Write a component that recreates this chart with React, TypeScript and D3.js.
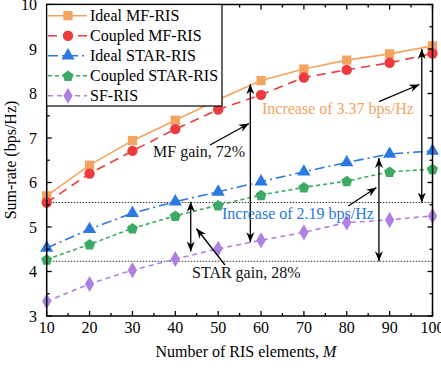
import React, { useEffect, useRef } from "react";
import * as d3 from "d3";

const W = 441;
const H = 371;

const elements = [10, 20, 30, 40, 50, 60, 70, 80, 90, 100];
const idealMF = [5.7, 6.39, 6.94, 7.4, 7.86, 8.29, 8.55, 8.75, 8.89, 9.07];
const coupledMF = [5.55, 6.2, 6.71, 7.2, 7.64, 7.97, 8.36, 8.53, 8.69, 8.9];
const idealSTAR = [4.53, 4.95, 5.31, 5.57, 5.79, 6.02, 6.24, 6.45, 6.64, 6.71];
const coupledSTAR = [4.27, 4.61, 4.97, 5.25, 5.49, 5.72, 5.89, 6.03, 6.24, 6.3];
const sfRIS = [3.33, 3.72, 4.03, 4.28, 4.51, 4.7, 4.88, 5.1, 5.16, 5.25];

const seriesNames = ["Ideal MF-RIS", "Coupled MF-RIS", "Ideal STAR-RIS", "Coupled STAR-RIS", "SF-RIS"];
const xTicks = [10, 20, 30, 40, 50, 60, 70, 80, 90, 100];
const yTicks = [3, 4, 5, 6, 7, 8, 9, 10];

const FONT = "'Liberation Serif', 'Times New Roman', serif";

const App: React.FC = () => {
  const ref = useRef<SVGSVGElement>(null);

  useEffect(() => {
    document.body.style.margin = "0";
    if (!ref.current) return;
    const svg = d3.select(ref.current);
    svg.selectAll("*").remove();

    const x = d3.scaleLinear().domain([10, 100]).range([46.7, 432.5]);
    const y = d3.scaleLinear().domain([3, 10]).range([316, 4.5]);
    const [x0, x1] = x.range();
    const [y0, y1] = y.range();

    const series = [
      { name: seriesNames[0], values: idealMF, color: "#F5A361", dash: "", shape: "square" },
      { name: seriesNames[1], values: coupledMF, color: "#EC3B3F", dash: "9,6", shape: "circle" },
      { name: seriesNames[2], values: idealSTAR, color: "#2A78E0", dash: "10,4,2,4", shape: "triangle" },
      { name: seriesNames[3], values: coupledSTAR, color: "#3BAA64", dash: "4,3", shape: "pentagon" },
      { name: seriesNames[4], values: sfRIS, color: "#B07FE2", dash: "5,4", shape: "diamond" },
    ];

    const symbolOf = (shape: string) => {
      switch (shape) {
        case "square": return d3.symbol(d3.symbolSquare, 85);
        case "circle": return d3.symbol(d3.symbolCircle, 85);
        case "triangle": return d3.symbol(d3.symbolTriangle, 75);
        case "pentagon": return null;
        default: return d3.symbol(d3.symbolDiamond, 75);
      }
    };
    const pentagon = (r: number) =>
      d3.range(5).map((i) => {
        const a = -Math.PI / 2 + (i * 2 * Math.PI) / 5;
        return [r * Math.cos(a), r * Math.sin(a)].join(",");
      }).join(" ");

    const drawMarker = (g: any, shape: string, cx: number, cy: number, color: string) => {
      if (shape === "pentagon") {
        g.append("polygon")
          .attr("points", pentagon(5.8))
          .attr("transform", `translate(${cx},${cy + 0.5})`)
          .attr("fill", color);
      } else {
        g.append("path")
          .attr("d", symbolOf(shape)!())
          .attr("transform", `translate(${cx},${cy})`)
          .attr("fill", color);
      }
    };

    // Arrow markers
    const defs = svg.append("defs");
    defs.append("marker")
      .attr("id", "arr")
      .attr("viewBox", "0 0 10 10")
      .attr("refX", 10)
      .attr("refY", 5)
      .attr("markerWidth", 10)
      .attr("markerHeight", 10)
      .attr("markerUnits", "userSpaceOnUse")
      .attr("orient", "auto-start-reverse")
      .append("path")
      .attr("d", "M0,1 L10,5 L0,9 L3,5 Z")
      .attr("fill", "#000");

    // Dotted reference lines
    [5.55, 4.23].forEach((v) => {
      svg.append("line")
        .attr("x1", x0).attr("x2", x1)
        .attr("y1", y(v)).attr("y2", y(v))
        .attr("stroke", "#333")
        .attr("stroke-width", 1)
        .attr("stroke-dasharray", "1.5,1.5");
    });

    // Lines and markers
    series.forEach((s) => {
      const line = d3.line<number>()
        .x((_, i) => x(elements[i]))
        .y((d) => y(d));
      svg.append("path")
        .datum(s.values)
        .attr("fill", "none")
        .attr("stroke", s.color)
        .attr("stroke-width", 1.6)
        .attr("stroke-dasharray", s.dash || null)
        .attr("d", line);
      const mg = svg.append("g");
      s.values.forEach((v, i) => drawMarker(mg, s.shape, x(elements[i]), y(v), s.color));
    });

    // Double arrows (gain spans)
    const dbl = [
      { m: 57.5, a: 8.21, b: 4.66 },
      { m: 43.6, a: 5.57, b: 4.45 },
      { m: 97.5, a: 9.0, b: 5.55 },
      { m: 87.5, a: 6.55, b: 4.23 },
    ];
    dbl.forEach((d) => {
      svg.append("line")
        .attr("x1", x(d.m)).attr("x2", x(d.m))
        .attr("y1", y(d.a)).attr("y2", y(d.b))
        .attr("stroke", "#000")
        .attr("stroke-width", 1.3)
        .attr("marker-start", "url(#arr)")
        .attr("marker-end", "url(#arr)");
    });

    // Pointer arrows
    const pointers = [
      { from: [210, 145], to: [249, 123.5] },
      { from: [379, 101.7], to: [419.5, 84.5] },
      { from: [348.3, 206], to: [376.5, 187.5] },
      { from: [225, 265], to: [196.5, 228.5] },
    ];
    pointers.forEach((p) => {
      svg.append("line")
        .attr("x1", p.from[0]).attr("y1", p.from[1])
        .attr("x2", p.to[0]).attr("y2", p.to[1])
        .attr("stroke", "#000")
        .attr("stroke-width", 1.3)
        .attr("marker-end", "url(#arr)");
    });

    // Annotation texts
    const notes = [
      { t: "MF gain, 72%", x: 153, y: 157, c: "#111" },
      { t: "Increase of 3.37 bps/Hz", x: 262, y: 114, c: "#F5A361" },
      { t: "Increase of 2.19 bps/Hz", x: 222, y: 219, c: "#2A78E0" },
      { t: "STAR gain, 28%", x: 192, y: 278, c: "#111" },
    ];
    notes.forEach((n) => {
      svg.append("text")
        .attr("x", n.x).attr("y", n.y)
        .attr("fill", n.c)
        .style("font-family", FONT)
        .style("font-size", "16px")
        .text(n.t);
    });

    // Frame
    svg.append("rect")
      .attr("x", x0).attr("y", y1)
      .attr("width", x1 - x0).attr("height", y0 - y1)
      .attr("fill", "none")
      .attr("stroke", "#000")
      .attr("stroke-width", 1.5);

    // Ticks (inward, all four sides)
    const tk = svg.append("g").attr("stroke", "#000").attr("stroke-width", 1.3);
    d3.range(10, 100.1, 5).forEach((v) => {
      const len = v % 10 === 0 ? 5 : 3;
      tk.append("line").attr("x1", x(v)).attr("x2", x(v)).attr("y1", y0).attr("y2", y0 - len);
      tk.append("line").attr("x1", x(v)).attr("x2", x(v)).attr("y1", y1).attr("y2", y1 + len);
    });
    d3.range(3, 10.01, 0.5).forEach((v) => {
      const len = Math.abs(v - Math.round(v)) < 1e-6 ? 5 : 3;
      tk.append("line").attr("x1", x0).attr("x2", x0 + len).attr("y1", y(v)).attr("y2", y(v));
      tk.append("line").attr("x1", x1).attr("x2", x1 - len).attr("y1", y(v)).attr("y2", y(v));
    });

    // Tick labels
    xTicks.forEach((v) => {
      svg.append("text")
        .attr("x", x(v)).attr("y", 332.5)
        .attr("text-anchor", "middle")
        .style("font-family", FONT)
        .style("font-size", "16px")
        .text(v);
    });
    yTicks.forEach((v) => {
      svg.append("text")
        .attr("x", 37).attr("y", y(v) + 5.5)
        .attr("text-anchor", "end")
        .style("font-family", FONT)
        .style("font-size", "16px")
        .text(v);
    });

    // Axis titles
    const xt = svg.append("text")
      .attr("x", 246).attr("y", 357)
      .attr("text-anchor", "middle")
      .style("font-family", FONT)
      .style("font-size", "16px");
    xt.append("tspan").text("Number of RIS elements, ");
    xt.append("tspan").style("font-style", "italic").text("M");

    svg.append("text")
      .attr("transform", `translate(16,160) rotate(-90)`)
      .attr("text-anchor", "middle")
      .style("font-family", FONT)
      .style("font-size", "16px")
      .text("Sum-rate (bps/Hz)");

    // Legend
    const lg = svg.append("g");
    lg.append("rect")
      .attr("x", x0).attr("y", y1)
      .attr("width", 222 - x0).attr("height", 106 - y1)
      .attr("fill", "#fff")
      .attr("stroke", "#000")
      .attr("stroke-width", 1.2);
    series.forEach((s, i) => {
      const cy = 15.7 + i * 20;
      lg.append("line")
        .attr("x1", 48).attr("x2", 87)
        .attr("y1", cy).attr("y2", cy)
        .attr("stroke", s.color)
        .attr("stroke-width", 1.6)
        .attr("stroke-dasharray", s.dash || null);
      drawMarker(lg, s.shape, 68, cy, s.color);
      lg.append("text")
        .attr("x", 90).attr("y", cy + 5.5)
        .style("font-family", FONT)
        .style("font-size", "16px")
        .text(s.name);
    });
  }, []);

  return <svg ref={ref} width={W} height={H} style={{ display: "block", background: "#fff" }} />;
};

export default App;
